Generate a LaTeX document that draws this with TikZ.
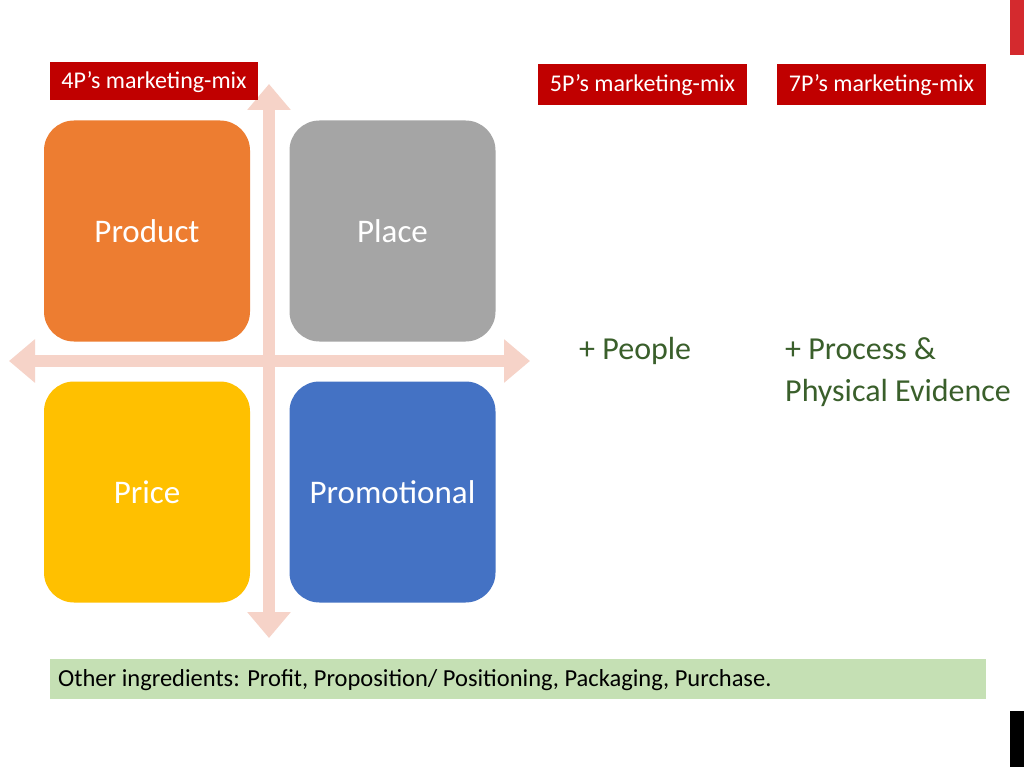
\documentclass[tikz,border=0pt]{standalone}
\usepackage{fontspec}
\setmainfont{Carlito}
\usetikzlibrary{arrows.meta}
\definecolor{labred}{HTML}{C00000}
\definecolor{cornerred}{HTML}{D42A2E}
\definecolor{arrowpink}{HTML}{F6D3C8}
\definecolor{orangeP}{HTML}{ED7D31}
\definecolor{grayP}{HTML}{A5A5A5}
\definecolor{goldP}{HTML}{FFC000}
\definecolor{blueP}{HTML}{4472C4}
\definecolor{greenbar}{HTML}{C5E0B4}
\definecolor{greentext}{HTML}{3A5F2B}
\tikzset{
  pbox/.style={rounded corners=30pt, minimum width=206pt, minimum height=221pt, inner sep=0pt, text=white, font=\fontsize{33}{38}\selectfont},
  mixlabel/.style={fill=labred, text=white, inner sep=0pt, text height=16pt, text depth=1pt, font=\fontsize{24}{28}\selectfont},
  plus/.style={text=greentext, anchor=west, inner sep=0pt, align=left, font=\fontsize{32}{42}\selectfont},
  dblarrow/.style={arrowpink, line width=12pt, {Triangle[width=42pt,length=26pt]}-{Triangle[width=42pt,length=26pt]}}
}
\begin{document}
\begin{tikzpicture}[x=1pt,y=-1pt]
\useasboundingbox (0,0) rectangle (1024,767);
\fill[white] (0,0) rectangle (1024,767);
% corner bars
\fill[cornerred] (1010,0) rectangle (1024,55);
\fill[black] (1010,711) rectangle (1024,767);
% axes arrows
\coordinate (vtop) at (269,84);
\coordinate (vbot) at (269,638);
\coordinate (hleft) at (9,361);
\coordinate (hright) at (530,361);
\draw[dblarrow] (vtop) -- (vbot);
\draw[dblarrow] (hleft) -- (hright);
% boxes
\node[pbox, fill=orangeP] (product) at (147,231) {Product};
\node[pbox, fill=grayP] (place) at (392.5,231) {Place};
\node[pbox, fill=goldP] (price) at (147,492) {Price};
\node[pbox, fill=blueP] (promo) at (392.5,492) {Promotional};
% labels
\node[mixlabel, minimum width=208pt, minimum height=38pt] (l4) at (154,81) {4P’s marketing-mix};
\node[mixlabel, minimum width=209pt, minimum height=41pt] (l5) at (642.5,84.5) {5P’s marketing-mix};
\node[mixlabel, minimum width=209pt, minimum height=41pt] (l7) at (881.5,84.5) {7P’s marketing-mix};
% plus texts
\node[plus] (people) at (579,351) {+ People};
\node[plus] (process) at (785,372) {+ Process \&\\Physical Evidence};
% bottom bar
\node[fill=greenbar, minimum width=936pt, minimum height=40pt, inner sep=0pt] (bar) at (518,679) {};
\node[anchor=west, inner sep=0pt, font=\fontsize{24.5}{28}\selectfont] (other) at (58,680) {Other ingredients: Profit, Proposition/ Positioning, Packaging, Purchase.};
\end{tikzpicture}
\end{document}
